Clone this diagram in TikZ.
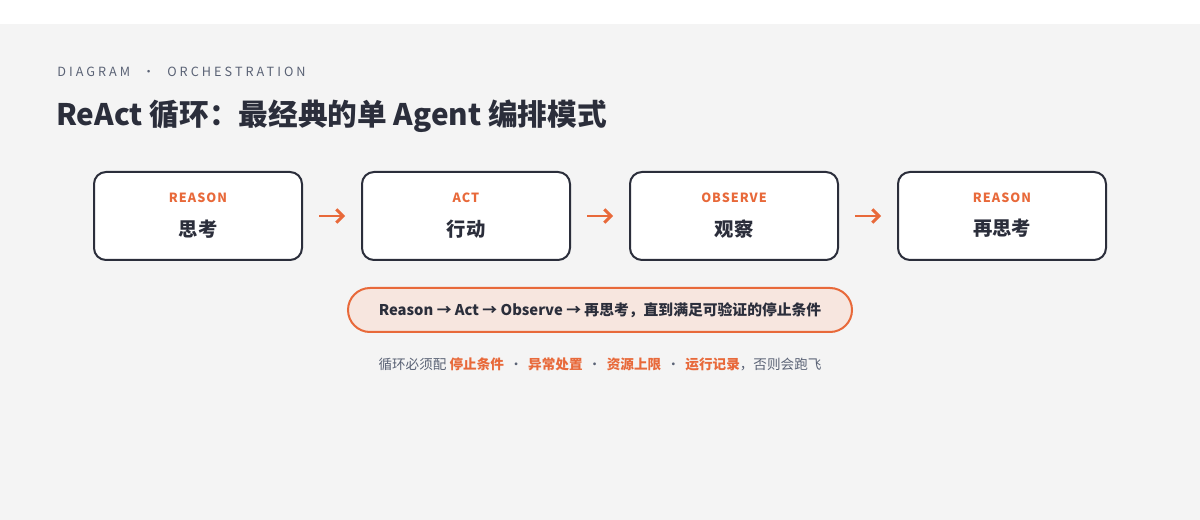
\documentclass[tikz,border=0pt]{standalone}
\usepackage{fontspec}
\setmainfont{Noto Sans CJK SC}
\newfontfamily\spacedfont[LetterSpace=24]{Noto Sans CJK SC}
\newfontfamily\tagfont[LetterSpace=8]{Noto Sans CJK SC}
\usetikzlibrary{arrows.meta}

\definecolor{bggray}{HTML}{F4F4F4}
\definecolor{inkdark}{HTML}{2B2E3B}
\definecolor{accent}{HTML}{E8693A}
\definecolor{mutedgray}{HTML}{5A6275}
\definecolor{pillfill}{HTML}{F7E6DF}
\newcommand{\hl}[1]{\textcolor{accent}{\bfseries #1}}

\begin{document}
\begin{tikzpicture}[x=0.75pt, y=-0.75pt,
    stepbox/.style ={rectangle, draw=inkdark, fill=white, line width=1.5pt,
      rounded corners=9pt, minimum width=156pt, minimum height=66pt},
    tag/.style ={text=accent, font=\tagfont\bfseries\fontsize{9.5}{11}\selectfont},
    steptext/.style ={text=inkdark, font=\bfseries\fontsize{14.5}{17}\selectfont},
    flow/.style ={draw=accent, line width=2.2pt, -{Straight Barb[length=5pt, width=10pt]}},
    pill/.style ={rectangle, draw=accent, fill=pillfill, line width=1.5pt,
      rounded corners=16.5pt, minimum width=378pt, minimum height=33pt,
      text=inkdark, font=\bfseries\fontsize{11.1}{13}\selectfont},
    note/.style ={text=mutedgray, font=\fontsize{10.2}{12}\selectfont}]
   \fill[white] (0,0) rectangle (1200,520);
   \fill[bggray] (0,24) rectangle (1200,520);
   \useasboundingbox (0,0) rectangle (1200,520);

   % heading
   \node[anchor=west, inner sep=0pt, text=mutedgray,
     font=\spacedfont\fontsize{9.5}{11}\selectfont] (kicker) at (57,72) {DIAGRAM\,\,\, · \,\,\,ORCHESTRATION};
   \node[anchor=west, inner sep=0pt, text=inkdark,
     font=\bfseries\fontsize{22.25}{26}\selectfont] (title) at (56,116) {ReAct 循环：最经典的单 Agent 编排模式};

   % loop steps
   \foreach \name/\x/\label/\txt in {reason/198/REASON/思考, act/466/ACT/行动,
       observe/734/OBSERVE/观察, rethink/1002/REASON/再思考} {
     \node[stepbox] (\name) at (\x,216) {};
     \node[tag] (\name tag) at ([yshift=13.5pt]\name.center) {\label};
     \node[steptext] (\name txt) at ([yshift=-9.5pt]\name.center) {\txt};
   }
   \foreach \a/\b in {reason/act, act/observe, observe/rethink}
     \draw[flow] ([xshift=12pt]\a.east) -- ([xshift=-12pt]\b.west);

   % summary and note
   \node[pill] (summary) at (600,310) {Reason → Act → Observe → 再思考，直到满足可验证的停止条件};
   \node[note] (note) at (600,364) {循环必须配 \hl{停止条件} \,·\, \hl{异常处置} \,·\, \hl{资源上限} \,·\, \hl{运行记录}，否则会跑飞};
 \end{tikzpicture}
\end{document}
